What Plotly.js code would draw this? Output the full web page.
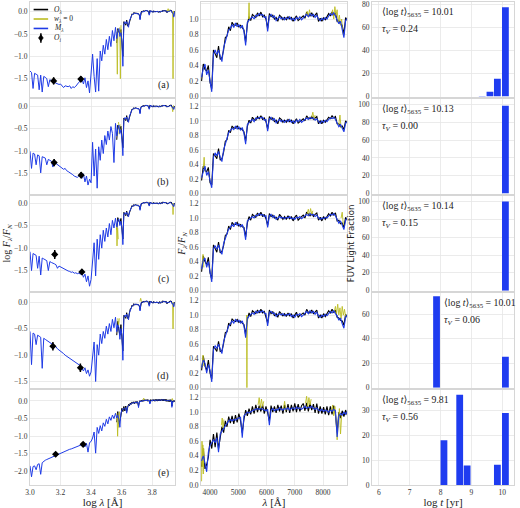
<!DOCTYPE html>
<html>
<head>
<meta charset="utf-8">
<script src="https://cdn.plot.ly/plotly-3.0.1.min.js"></script>
<style>
  html, body { margin: 0; padding: 0; background: #fff; }
  #myPlot { width: 520px; height: 508px; }
</style>
</head>
<body>
<div id="myPlot"></div>
<script>
/**
 * Wavelength grids
 */
const uvLogLam = [3.00, 3.01, 3.02, 3.03, 3.04, 3.05, 3.06, 3.07, 3.08, 3.09,
  3.10, 3.11, 3.12, 3.13, 3.14, 3.15, 3.16, 3.17, 3.18, 3.19,
  3.20, 3.21, 3.22, 3.23, 3.24, 3.25, 3.26, 3.27, 3.28, 3.29,
  3.30, 3.31, 3.32, 3.33, 3.34, 3.35, 3.36, 3.37, 3.38, 3.39,
  3.40, 3.41, 3.42, 3.43, 3.44, 3.45, 3.46, 3.47, 3.48, 3.49,
  3.50, 3.51, 3.52, 3.53, 3.54, 3.55, 3.56];

const optLam = [3700, 3760, 3820, 3880, 3940, 4000, 4060, 4120, 4180, 4240,
  4300, 4360, 4420, 4480, 4540, 4600, 4660, 4720, 4780, 4840,
  4900, 4960, 5020, 5080, 5140, 5200, 5260, 5320, 5380, 5440,
  5500, 5560, 5620, 5680, 5740, 5800, 5860, 5920, 5980, 6040,
  6100, 6160, 6220, 6280, 6340, 6400, 6460, 6520, 6580, 6640,
  6700, 6760, 6820, 6880, 6940, 7000, 7060, 7120, 7180, 7240,
  7300, 7360, 7420, 7480, 7540, 7600, 7660, 7720, 7780, 7840,
  7900, 7960, 8020, 8080, 8140, 8200, 8260, 8320, 8380, 8440,
  8500, 8560, 8620, 8680, 8740, 8800, 8860];

/**
 * Model spectra in the UV (log F / F_N)
 */
const uvModelA = [-1.33, -1.36, -1.72, -1.38, -1.40, -1.42, -1.75, -1.42, -1.80, -1.45,
  -1.47, -1.50, -1.68, -1.52, -1.55, -1.56, -1.58, -1.60, -1.62, -1.63,
  -1.62, -1.66, -1.70, -1.66, -1.67, -1.68, -1.66, -1.72, -1.68, -1.70,
  -1.67, -1.62, -1.58, -1.55, -1.50, -1.62, -1.48, -1.70, -1.55, -1.82,
  -1.35, -0.95, -1.45, -1.80, -1.05, -1.78, -0.88, -1.10, -0.75, -0.95,
  -0.62, -0.85, -0.55, -0.78, -0.42, -0.65, -0.35];
const uvModelB = [-1.00, -1.38, -1.04, -1.06, -1.30, -1.08, -1.10, -1.48, -1.12, -1.14,
  -1.15, -1.30, -1.18, -1.20, -1.22, -1.35, -1.24, -1.27, -1.30, -1.32,
  -1.35, -1.37, -1.40, -1.38, -1.43, -1.45, -1.47, -1.50, -1.52, -1.55,
  -1.56, -1.58, -1.55, -1.52, -1.60, -1.50, -1.68, -1.55, -1.75, -1.62,
  -1.70, -0.80, -1.55, -0.95, -1.82, -0.90, -1.20, -0.75, -1.05, -0.65,
  -0.85, -0.55, -0.75, -0.45, -0.60, -1.25, -0.38];
const uvModelC = [-1.08, -1.50, -1.12, -1.14, -1.16, -1.45, -1.18, -1.60, -1.22, -1.24,
  -1.26, -1.28, -1.50, -1.30, -1.32, -1.33, -1.35, -1.37, -1.45, -1.40,
  -1.42, -1.44, -1.46, -1.48, -1.50, -1.51, -1.52, -1.54, -1.53, -1.56,
  -1.55, -1.57, -1.56, -1.58, -1.55, -1.65, -1.58, -1.75, -1.62, -1.85,
  -1.70, -1.20, -0.88, -1.62, -0.80, -1.25, -0.70, -1.00, -0.60, -0.85,
  -0.55, -0.75, -0.45, -0.70, -0.38, -0.55, -0.33];
const uvModelD = [-0.55, -1.18, -0.58, -0.60, -0.80, -0.62, -0.64, -0.66, -1.25, -0.68,
  -0.70, -0.72, -0.74, -0.76, -0.78, -0.80, -0.82, -0.84, -0.88, -0.90,
  -0.93, -0.95, -0.97, -1.00, -1.02, -1.04, -1.06, -1.08, -1.10, -1.12,
  -1.14, -1.16, -1.18, -1.20, -1.25, -1.30, -1.24, -1.35, -1.28, -1.40,
  -1.32, -1.05, -0.75, -1.50, -0.80, -1.00, -0.60, -0.78, -0.55, -0.68,
  -0.45, -0.60, -0.40, -0.55, -0.32, -0.48, -0.28];
const uvModelE = [-1.84, -2.15, -1.86, -1.84, -1.95, -1.80, -1.78, -2.08, -1.75, -1.70,
  -1.68, -1.66, -1.64, -1.62, -1.60, -1.58, -1.55, -1.53, -1.52, -1.50,
  -1.47, -1.45, -1.44, -1.42, -1.40, -1.39, -1.37, -1.36, -1.34, -1.33,
  -1.31, -1.30, -1.28, -1.26, -1.24, -1.22, -1.30, -1.20, -1.45, -1.18,
  -1.15, -1.05, -0.88, -1.48, -0.75, -0.92, -0.70, -0.85, -0.62, -0.72,
  -0.52, -0.65, -0.45, -0.55, -0.40, -0.50, -0.35];

/**
 * Optical model (M) and observed (O) spectra, F / F_N
 */
const optModelA = [0.25, 0.36, 0.42, 0.28, 0.34, 0.22, 0.06, 0.55, 0.60, 0.54,
  0.60, 0.52, 0.45, 0.63, 0.72, 0.80, 0.86, 0.88, 0.93, 0.89,
  0.95, 0.90, 0.93, 0.88, 0.92, 0.84, 0.66, 0.96, 0.99, 1.01,
  1.03, 1.00, 1.05, 1.04, 1.07, 1.05, 1.06, 1.02, 1.03, 0.84,
  1.04, 1.06, 1.02, 1.04, 0.98, 1.01, 1.03, 1.00, 1.02, 0.99,
  1.02, 1.00, 1.03, 0.99, 1.01, 0.98, 1.02, 1.00, 1.03, 0.99,
  1.01, 1.04, 1.06, 1.03, 1.07, 1.04, 1.06, 1.02, 1.05, 1.00,
  0.98, 1.01, 0.99, 1.02, 1.00, 1.04, 1.07, 1.05, 1.08, 1.04,
  1.00, 0.94, 0.97, 0.88, 0.76, 0.98, 1.01];
const optObsA = [0.20, 0.42, 0.35, 0.33, 0.40, 0.18, 0.10, 0.60, 0.55, 0.50,
  0.65, 0.48, 0.50, 0.60, 0.76, 0.78, 0.90, 0.85, 0.96, 0.92,
  0.92, 0.95, 0.90, 0.92, 0.89, 0.86, 0.70, 0.93, 1.03, 0.98,
  1.06, 1.04, 1.02, 1.08, 1.04, 1.09, 1.03, 1.05, 1.00, 0.88,
  1.07, 1.03, 1.05, 1.00, 1.02, 0.97, 1.05, 1.03, 0.99, 1.02,
  0.99, 1.03, 1.00, 1.02, 0.97, 1.01, 1.04, 0.98, 1.00, 1.02,
  1.04, 1.01, 1.09, 1.05, 1.04, 1.08, 1.03, 1.05, 1.08, 0.97,
  1.01, 0.97, 1.02, 0.99, 1.03, 1.07, 1.04, 1.09, 1.05, 1.08,
  0.97, 0.98, 0.93, 0.92, 0.80, 1.02, 0.98];

const optModelB = [0.22, 0.32, 0.38, 0.25, 0.30, 0.18, 0.08, 0.50, 0.56, 0.52,
  0.58, 0.50, 0.44, 0.60, 0.68, 0.76, 0.84, 0.87, 0.90, 0.88,
  0.93, 0.89, 0.92, 0.87, 0.91, 0.83, 0.68, 0.95, 0.98, 1.00,
  1.02, 0.99, 1.04, 1.03, 1.05, 1.04, 1.05, 1.01, 1.02, 0.86,
  1.03, 1.05, 1.01, 1.03, 0.97, 1.00, 1.02, 0.99, 1.01, 0.98,
  1.01, 0.99, 1.02, 0.98, 1.00, 0.97, 1.01, 0.99, 1.02, 0.98,
  1.00, 1.03, 1.04, 1.02, 1.05, 1.03, 1.04, 1.01, 1.03, 0.99,
  0.97, 1.00, 0.98, 1.01, 0.99, 1.02, 1.04, 1.03, 1.05, 1.02,
  0.98, 0.92, 0.95, 0.90, 0.85, 0.97, 0.99];
const optObsB = [0.18, 0.38, 0.32, 0.30, 0.36, 0.15, 0.12, 0.55, 0.52, 0.48,
  0.62, 0.46, 0.48, 0.57, 0.72, 0.74, 0.87, 0.84, 0.93, 0.90,
  0.90, 0.93, 0.89, 0.90, 0.88, 0.85, 0.72, 0.92, 1.01, 0.97,
  1.05, 1.02, 1.01, 1.06, 1.03, 1.07, 1.02, 1.04, 0.99, 0.89,
  1.06, 1.02, 1.04, 0.99, 1.01, 0.96, 1.04, 1.02, 0.98, 1.01,
  0.98, 1.02, 0.99, 1.01, 0.96, 1.00, 1.03, 0.97, 0.99, 1.01,
  1.03, 1.00, 1.07, 1.04, 1.03, 1.06, 1.02, 1.04, 1.06, 0.96,
  1.00, 0.96, 1.01, 0.98, 1.02, 1.05, 1.03, 1.07, 1.04, 1.06,
  0.96, 0.96, 0.92, 0.93, 0.88, 1.00, 0.97];

const optModelC = [0.30, 0.42, 0.45, 0.32, 0.40, 0.28, 0.12, 0.58, 0.62, 0.57,
  0.63, 0.55, 0.50, 0.65, 0.72, 0.80, 0.85, 0.87, 0.91, 0.88,
  0.94, 0.90, 0.92, 0.88, 0.91, 0.85, 0.70, 0.96, 0.98, 1.00,
  1.02, 1.00, 1.04, 1.03, 1.06, 1.04, 1.05, 1.02, 1.03, 0.87,
  1.03, 1.05, 1.01, 1.03, 0.98, 1.00, 1.02, 1.00, 1.01, 0.99,
  1.01, 1.00, 1.02, 0.99, 1.00, 0.98, 1.01, 1.00, 1.02, 0.99,
  1.01, 1.03, 1.05, 1.03, 1.06, 1.04, 1.05, 1.02, 1.04, 1.00,
  0.98, 1.00, 0.99, 1.01, 1.00, 1.03, 1.05, 1.04, 1.06, 1.03,
  0.99, 0.93, 0.96, 0.89, 0.84, 0.97, 1.00];
const optObsC = [0.26, 0.48, 0.40, 0.36, 0.46, 0.24, 0.16, 0.63, 0.58, 0.53,
  0.67, 0.52, 0.54, 0.62, 0.76, 0.78, 0.89, 0.84, 0.94, 0.91,
  0.91, 0.94, 0.89, 0.91, 0.88, 0.87, 0.74, 0.93, 1.02, 0.97,
  1.05, 1.03, 1.01, 1.07, 1.03, 1.08, 1.02, 1.05, 0.99, 0.90,
  1.06, 1.02, 1.04, 1.00, 1.01, 0.97, 1.05, 1.02, 0.98, 1.02,
  0.98, 1.03, 0.99, 1.02, 0.96, 1.01, 1.04, 0.97, 1.00, 1.02,
  1.04, 1.00, 1.08, 1.05, 1.03, 1.07, 1.02, 1.05, 1.07, 0.97,
  1.01, 0.96, 1.02, 0.98, 1.03, 1.06, 1.03, 1.08, 1.04, 1.07,
  0.96, 0.97, 0.92, 0.93, 0.87, 1.01, 0.97];

const optModelD = [0.28, 0.38, 0.34, 0.20, 0.32, 0.24, 0.08, 0.52, 0.58, 0.54,
  0.60, 0.53, 0.47, 0.64, 0.72, 0.79, 0.85, 0.88, 0.92, 0.89,
  0.94, 0.91, 0.93, 0.89, 0.92, 0.85, 0.69, 0.96, 0.99, 1.01,
  1.03, 1.01, 1.05, 1.03, 1.06, 1.04, 1.06, 1.03, 1.02, 0.85,
  1.04, 1.05, 1.02, 1.03, 0.98, 1.01, 1.02, 1.00, 1.02, 0.99,
  1.01, 1.00, 1.02, 0.98, 1.00, 0.97, 1.01, 1.00, 1.02, 0.98,
  1.00, 1.03, 1.05, 1.02, 1.06, 1.03, 1.05, 1.01, 1.04, 0.99,
  0.97, 1.00, 0.98, 1.01, 0.99, 1.02, 1.05, 1.03, 1.06, 1.02,
  0.99, 0.93, 0.96, 0.88, 0.82, 0.97, 1.00];
const optObsD = [0.24, 0.44, 0.30, 0.24, 0.38, 0.20, 0.12, 0.57, 0.54, 0.50,
  0.64, 0.50, 0.51, 0.61, 0.76, 0.77, 0.89, 0.85, 0.95, 0.92,
  0.91, 0.94, 0.90, 0.92, 0.89, 0.87, 0.73, 0.93, 1.03, 0.98,
  1.06, 1.04, 1.02, 1.07, 1.03, 1.08, 1.03, 1.05, 0.98, 0.89,
  1.07, 1.02, 1.05, 0.99, 1.02, 0.97, 1.05, 1.02, 0.99, 1.02,
  0.98, 1.03, 0.99, 1.02, 0.96, 1.00, 1.04, 0.97, 1.00, 1.01,
  1.03, 1.00, 1.08, 1.04, 1.03, 1.07, 1.02, 1.04, 1.07, 0.96,
  1.00, 0.96, 1.02, 0.98, 1.03, 1.06, 1.03, 1.08, 1.04, 1.07,
  0.97, 0.96, 0.93, 0.92, 0.86, 1.01, 0.97];

const optModelE = [0.33, 0.40, 0.30, 0.18, 0.45, 0.55, 0.58, 0.62, 0.58, 0.65,
  0.45, 0.70, 0.74, 0.78, 0.82, 0.85, 0.88, 0.90, 0.88, 0.90,
  0.89, 0.91, 0.92, 0.93, 0.65, 0.95, 0.97, 1.00, 0.99, 1.01,
  1.02, 1.03, 1.04, 1.05, 1.04, 1.05, 1.04, 1.03, 1.02, 1.04,
  0.82, 1.03, 1.05, 1.02, 1.04, 1.03, 1.06, 1.04, 1.03, 1.05,
  1.04, 1.06, 1.03, 1.05, 1.06, 1.04, 1.07, 1.05, 1.06, 1.04,
  1.06, 1.08, 1.05, 1.07, 1.06, 1.08, 1.05, 1.04, 1.06, 1.03,
  1.02, 1.04, 1.01, 1.03, 1.02, 1.00, 1.03, 1.01, 1.04, 1.02,
  0.66, 0.95, 0.98, 0.96, 1.00, 0.97, 1.01];
const optObsE = [0.25, 0.50, 0.22, 0.28, 0.38, 0.62, 0.50, 0.70, 0.52, 0.72,
  0.50, 0.64, 0.80, 0.72, 0.88, 0.80, 0.94, 0.85, 0.95, 0.84,
  0.96, 0.86, 0.98, 0.88, 0.72, 0.90, 1.03, 0.95, 1.05, 0.97,
  1.08, 0.98, 1.10, 1.00, 1.09, 1.01, 1.10, 0.98, 1.08, 0.99,
  0.88, 1.09, 1.00, 1.08, 0.99, 1.10, 1.01, 1.09, 0.98, 1.10,
  1.00, 1.11, 0.99, 1.10, 1.01, 1.12, 1.00, 1.11, 1.01, 1.09,
  1.12, 1.02, 1.13, 1.01, 1.12, 1.03, 1.11, 0.99, 1.12, 0.98,
  1.08, 0.98, 1.07, 0.97, 1.08, 0.96, 1.08, 0.97, 1.09, 0.97,
  0.72, 1.00, 0.92, 1.02, 0.94, 1.03, 0.96];

/**
 * Masked pixels (w = 0), linear panels
 */
const maskLamA = [5360, 5380, 5400, null, 7400, 7440, 7480, 7520, 7560, null,
  8300, 8340, 8380, 8420, 8460, 8500, 8540, 8580, 8620, 8660, 8700, 8740];
const maskFluxA = [1.00, 1.21, 0.99, null, 1.04, 1.10, 1.03, 1.12, 1.05, null,
  1.05, 1.12, 1.00, 1.16, 1.05, 1.12, 0.95, 1.05, 0.92, 1.00, 0.82, 0.78];
const maskLamB = [3760, 3790, 3820, null, 7600, 7640, 7680, 7720, null, 8560, 8600, 8640];
const maskFluxB = [0.35, 0.50, 0.30, null, 1.05, 1.12, 1.02, 1.08, null, 0.95, 1.08, 0.90];
const maskLamC = [3720, 3750, 3780, null, 7440, 7480, 7520, 7560, 7600, 7640, null, 8640, 8680, 8720];
const maskFluxC = [0.35, 0.50, 0.32, null, 1.06, 1.12, 1.04, 1.13, 1.05, 1.10, null, 1.00, 1.08, 0.90];
const maskLamD = [3720, 3750, 3780, null, 5290, 5305, 5320, null,
  8400, 8440, 8480, 8520, 8560, 8600, 8640, 8680, 8720, 8760, 8800];
const maskFluxD = [0.30, 0.45, 0.30, null, 1.00, 0.00, 1.00, null,
  1.05, 1.12, 1.02, 1.15, 1.00, 1.10, 0.95, 1.12, 1.00, 1.08, 0.98];
const maskLamE = [3700, 3715, 3730, 3745, 3760, 3775, 3790, null, 4400, 4430, 4460, 4490, null,
  5700, 5740, 5780, 5820, 5860, 5900, null, 6600, 6640, 6680, null,
  7380, 7420, 7460, 7500, 7540, 7580, null,
  8300, 8340, 8380, 8420, 8460, 8500, 8540, 8580, 8620, 8660];
const maskFluxE = [0.05, 0.60, 0.25, 0.55, 0.15, 0.50, 0.30, null, 0.82, 0.92, 0.78, 0.90, null,
  1.10, 1.20, 1.05, 1.18, 1.08, 1.15, null, 1.05, 1.15, 1.02, null,
  1.12, 1.22, 1.08, 1.20, 1.10, 1.18, null,
  1.02, 1.10, 0.95, 1.08, 0.90, 0.62, 0.85, 1.05, 0.70, 0.95];

/**
 * Masked pixels (w = 0), log panels
 */
const maskLogLamA = [3.568, 3.572, 3.576, null, 3.588, 3.592, 3.596, null,
  3.900, 3.905, 3.910, 3.915, null, 3.934, 3.937, 3.940];
const maskLogFluxA = [-0.45, -1.40, -0.40, null, -0.35, -1.50, -0.30, null,
  0.02, 0.07, 0.00, 0.05, null, 0.00, -1.50, 0.02];
const maskLogLamB = [3.580, 3.585, 3.590, null, 3.930, 3.935, 3.940];
const maskLogFluxB = [-0.35, -0.62, -0.40, null, 0.00, -0.12, 0.02];
const maskLogLamC = [3.566, 3.570, 3.574, 3.578, null, 3.934, 3.937, 3.940];
const maskLogFluxC = [-0.45, -0.95, -0.55, -0.80, null, 0.00, -0.25, 0.00];
const maskLogLamD = [3.575, 3.580, 3.585, null, 3.720, 3.725, 3.730, null, 3.934, 3.937, 3.940];
const maskLogFluxD = [-0.30, -0.45, -0.30, null, 0.02, 0.08, 0.02, null, 0.00, -0.50, 0.00];
const maskLogLamE = [3.570, 3.574, 3.578, 3.582, 3.586, null, 3.740, 3.745, 3.750, null, 3.928, 3.932, 3.936];
const maskLogFluxE = [-0.35, -1.00, -0.40, -0.75, -0.30, null, 0.02, 0.08, 0.03, null, 0.00, 0.07, 0.02];

/**
 * GALEX photometry (O_i)
 */
const fuvLogLam = [3.155, 3.158, 3.162, 3.150, 3.168];
const fuvFlux = [-1.55, -1.25, -1.14, -0.83, -1.51];
const fuvErr = [0.08, 0.08, 0.10, 0.08, 0.06];
const nuvLogLam = [3.333, 3.335, 3.340, 3.330, 3.348];
const nuvFlux = [-1.51, -1.53, -1.53, -1.24, -1.23];
const nuvErr = [0.07, 0.07, 0.06, 0.08, 0.05];

/**
 * FUV light fractions per age bin
 */
const ageBins = [7.87, 8.11, 8.36, 8.62, 8.86, 9.10, 9.35, 9.60, 9.84, 10.10];
const fracA = [0, 0, 0, 0, 0, 0, 0.4, 4.2, 15.5, 78.0];
const fracB = [0, 0, 0, 0, 0, 0, 0, 0, 0, 98.6];
const fracC = [0, 0, 0, 0, 0, 0, 0, 0, 0, 100.0];
const fracD = [74.5, 0, 0, 0, 0, 0, 0, 0, 0, 25.3];
const fracE = [0, 18.0, 0, 36.3, 7.8, 0, 0, 0, 8.1, 28.9];

const meanAge = ["10.01", "10.13", "10.14", "10.01", "9.81"];
const tauV = ["0.24", "0.00", "0.15", "0.06", "0.56"];
const panelLetters = ["a", "b", "c", "d", "e"];

/**
 * Axis ranges per row
 */
const logRange = [[-1.9, 0.22], [-1.94, 0.16], [-1.95, 0.16], [-1.62, 0.175], [-2.38, 0.3]];
const logTicks = [[0, -0.5, -1, -1.5], [0, -0.5, -1, -1.5], [0, -0.5, -1, -1.5], [0, -0.5, -1, -1.5], [0, -0.5, -1, -1.5, -2]];
const linRange = [[0, 1.22], [0, 1.3], [0, 1.3], [0, 1.3], [0, 1.3]];
const fracRange = [[0, 82.5], [0, 106], [0, 106], [0, 77], [0, 38]];
const fracDtick = [20, 20, 20, 20, 10];

const rows = [
  { uv: uvModelA, mod: optModelA, obs: optObsA, mx: maskLamA, my: maskFluxA, lx: maskLogLamA, ly: maskLogFluxA, frac: fracA },
  { uv: uvModelB, mod: optModelB, obs: optObsB, mx: maskLamB, my: maskFluxB, lx: maskLogLamB, ly: maskLogFluxB, frac: fracB },
  { uv: uvModelC, mod: optModelC, obs: optObsC, mx: maskLamC, my: maskFluxC, lx: maskLogLamC, ly: maskLogFluxC, frac: fracC },
  { uv: uvModelD, mod: optModelD, obs: optObsD, mx: maskLamD, my: maskFluxD, lx: maskLogLamD, ly: maskLogFluxD, frac: fracD },
  { uv: uvModelE, mod: optModelE, obs: optObsE, mx: maskLamE, my: maskFluxE, lx: maskLogLamE, ly: maskLogFluxE, frac: fracE }
];

const colors = {
  obs: "#000000",
  mask: "#bcbd22",
  model: "#1f3be6",
  bar: "#1f3cf0",
  grid: "#e6e6e6",
  frame: "#d6d6d6"
};

const serif = "Liberation Serif, DejaVu Serif, serif";

/**
 * Layout geometry
 */
const colDom = [[0, 0.2984], [0.3519, 0.6523], [0.7037, 0.996]];
const rowDom = i => {
  const top = i * 97.1;
  return [(483 - top - 94.5) / 483, (483 - top) / 483];
};
const axName = k => (k === 1 ? ["x", "y"] : ["x" + k, "y" + k]);
const axKey = k => (k === 1 ? ["xaxis", "yaxis"] : ["xaxis" + k, "yaxis" + k]);

const baseAxis = () => ({
  showgrid: true,
  gridcolor: colors.grid,
  gridwidth: 0.8,
  showline: true,
  linecolor: colors.frame,
  linewidth: 1,
  mirror: true,
  zeroline: false,
  ticks: "",
  tickfont: { family: serif, size: 7.5, color: "#333" },
  fixedrange: true
});

const data = [];
const layout = {
  width: 520,
  height: 508,
  margin: { l: 30, r: 4, t: 2, b: 23 },
  paper_bgcolor: "#ffffff",
  plot_bgcolor: "#ffffff",
  showlegend: false,
  font: { family: serif, size: 8, color: "#222" },
  annotations: [],
  shapes: []
};

const optLogLam = optLam.map(Math.log10);

rows.forEach((r, i) => {
  const kL = i * 3 + 1, kM = i * 3 + 2, kR = i * 3 + 3;
  const [xL, yL] = axName(kL), [xM, yM] = axName(kM), [xR, yR] = axName(kR);
  const last = i === 4;

  // left: log spectra
  data.push({
    type: "scatter", mode: "lines", xaxis: xL, yaxis: yL,
    x: optLogLam, y: r.obs.map(Math.log10),
    line: { color: colors.obs, width: 1 }, hoverinfo: "skip"
  });
  data.push({
    type: "scatter", mode: "lines", xaxis: xL, yaxis: yL,
    x: r.lx, y: r.ly, connectgaps: false,
    line: { color: colors.mask, width: 0.9 }, hoverinfo: "skip"
  });
  data.push({
    type: "scatter", mode: "lines", xaxis: xL, yaxis: yL,
    x: uvLogLam.concat(optLogLam), y: r.uv.concat(r.mod.map(Math.log10)),
    line: { color: colors.model, width: 1 }, hoverinfo: "skip"
  });
  data.push({
    type: "scatter", mode: "markers", xaxis: xL, yaxis: yL,
    x: [fuvLogLam[i], nuvLogLam[i]], y: [fuvFlux[i], nuvFlux[i]],
    error_y: { type: "data", array: [fuvErr[i], nuvErr[i]], color: "#000", thickness: 1.5, width: 0 },
    marker: { symbol: "diamond", size: 5.5, color: "#000" }
  });

  // middle: linear spectra
  data.push({
    type: "scatter", mode: "lines", xaxis: xM, yaxis: yM,
    x: optLam, y: r.obs,
    line: { color: colors.obs, width: 1.1 }, hoverinfo: "skip"
  });
  data.push({
    type: "scatter", mode: "lines", xaxis: xM, yaxis: yM,
    x: r.mx, y: r.my, connectgaps: false,
    line: { color: colors.mask, width: 0.9 }, hoverinfo: "skip"
  });
  data.push({
    type: "scatter", mode: "lines", xaxis: xM, yaxis: yM,
    x: optLam, y: r.mod,
    line: { color: colors.model, width: 1.1 }, hoverinfo: "skip"
  });

  // right: light fractions
  data.push({
    type: "bar", xaxis: xR, yaxis: yR,
    x: ageBins, y: r.frac, width: 0.22,
    marker: { color: colors.bar, line: { width: 0 } }
  });

  const dom = rowDom(i);
  const [xkL, ykL] = axKey(kL), [xkM, ykM] = axKey(kM), [xkR, ykR] = axKey(kR);

  layout[xkL] = Object.assign(baseAxis(), {
    domain: colDom[0], anchor: yL, range: [3.0, 3.95],
    tick0: 3.0, dtick: 0.2, tickformat: ".1f", showticklabels: last
  });
  layout[ykL] = Object.assign(baseAxis(), {
    domain: dom, anchor: xL, range: logRange[i],
    tickvals: logTicks[i], tickformat: ".1f"
  });
  layout[xkM] = Object.assign(baseAxis(), {
    domain: colDom[1], anchor: yM, range: [3680, 8850],
    tick0: 4000, dtick: 1000, tickformat: "d", showticklabels: last
  });
  layout[ykM] = Object.assign(baseAxis(), {
    domain: dom, anchor: xM, range: linRange[i],
    tick0: 0, dtick: 0.2, tickformat: ".1f"
  });
  layout[xkR] = Object.assign(baseAxis(), {
    domain: colDom[2], anchor: yR, range: [5.78, 10.38],
    tick0: 6, dtick: 1, showticklabels: last
  });
  layout[ykR] = Object.assign(baseAxis(), {
    domain: dom, anchor: xR, range: fracRange[i],
    tick0: 0, dtick: fracDtick[i]
  });

  // panel letter
  layout.annotations.push({
    xref: xL + " domain", yref: yL + " domain", x: 0.975, y: 0.04,
    xanchor: "right", yanchor: "bottom", showarrow: false,
    text: "(" + panelLetters[i] + ")", font: { family: serif, size: 10, color: "#222" }
  });

  // mean age and tau_V
  const tx = i === 3 ? 0.49 : 0.055;
  layout.annotations.push({
    xref: xR + " domain", yref: yR + " domain", x: tx, y: 0.894,
    xanchor: "left", yanchor: "middle", showarrow: false,
    text: "⟨log <i>t</i>⟩<sub>5635</sub> = " + meanAge[i],
    font: { family: serif, size: 9.8, color: "#222" }
  });
  layout.annotations.push({
    xref: xR + " domain", yref: yR + " domain", x: tx, y: 0.714,
    xanchor: "left", yanchor: "middle", showarrow: false,
    text: "<i>τ<sub>V</sub></i> = " + tauV[i],
    font: { family: serif, size: 10, color: "#222" }
  });
});

/**
 * Axis titles
 */
layout.xaxis13.title = { text: "log <i>λ</i> [Å]", font: { family: serif, size: 11 }, standoff: 3 };
layout.xaxis14.title = { text: "<i>λ</i> [Å]", font: { family: serif, size: 11 }, standoff: 3 };
layout.xaxis15.title = { text: "log <i>t</i> [yr]", font: { family: serif, size: 11 }, standoff: 3 };
layout.yaxis7.title = { text: "log <i>F<sub>λ</sub></i>/<i>F<sub>N</sub></i>", font: { family: serif, size: 10 }, standoff: 1 };
layout.yaxis8.title = { text: "<i>F<sub>λ</sub></i>/<i>F<sub>N</sub></i>", font: { family: serif, size: 10 }, standoff: 1 };
layout.yaxis9.title = { text: "FUV Light Fraction", font: { family: "DejaVu Sans, sans-serif", size: 8.5 }, standoff: 2 };

/**
 * Legend drawn inside panel (a)
 */
const legendItems = [
  { label: "<i>O<sub>λ</sub></i>", color: colors.obs, y: 0.92 },
  { label: "<i>w<sub>λ</sub></i> = 0", color: colors.mask, y: 0.82 },
  { label: "<i>M<sub>λ</sub></i>", color: colors.model, y: 0.72 }
];
legendItems.forEach(it => {
  layout.shapes.push({
    type: "line", xref: "x domain", yref: "y domain",
    x0: 0.025, x1: 0.125, y0: it.y, y1: it.y,
    line: { color: it.color, width: 1.6 }
  });
  layout.annotations.push({
    xref: "x domain", yref: "y domain", x: 0.155, y: it.y,
    xanchor: "left", yanchor: "middle", showarrow: false,
    text: it.label, font: { family: serif, size: 7.5, color: "#222" }
  });
});
layout.shapes.push({
  type: "line", xref: "x domain", yref: "y domain",
  x0: 0.075, x1: 0.075, y0: 0.57, y1: 0.67,
  line: { color: "#000", width: 1.5 }
});
layout.shapes.push({
  type: "path", xref: "x domain", yref: "y domain",
  path: "M 0.075 0.655 L 0.092 0.62 L 0.075 0.585 L 0.058 0.62 Z",
  fillcolor: "#000", line: { color: "#000", width: 0.5 }
});
layout.annotations.push({
  xref: "x domain", yref: "y domain", x: 0.155, y: 0.615,
  xanchor: "left", yanchor: "middle", showarrow: false,
  text: "<i>O<sub>i</sub></i>", font: { family: serif, size: 7.5, color: "#222" }
});

Plotly.newPlot("myPlot", data, layout, { displayModeBar: false, staticPlot: true });
</script>
</body>
</html>
